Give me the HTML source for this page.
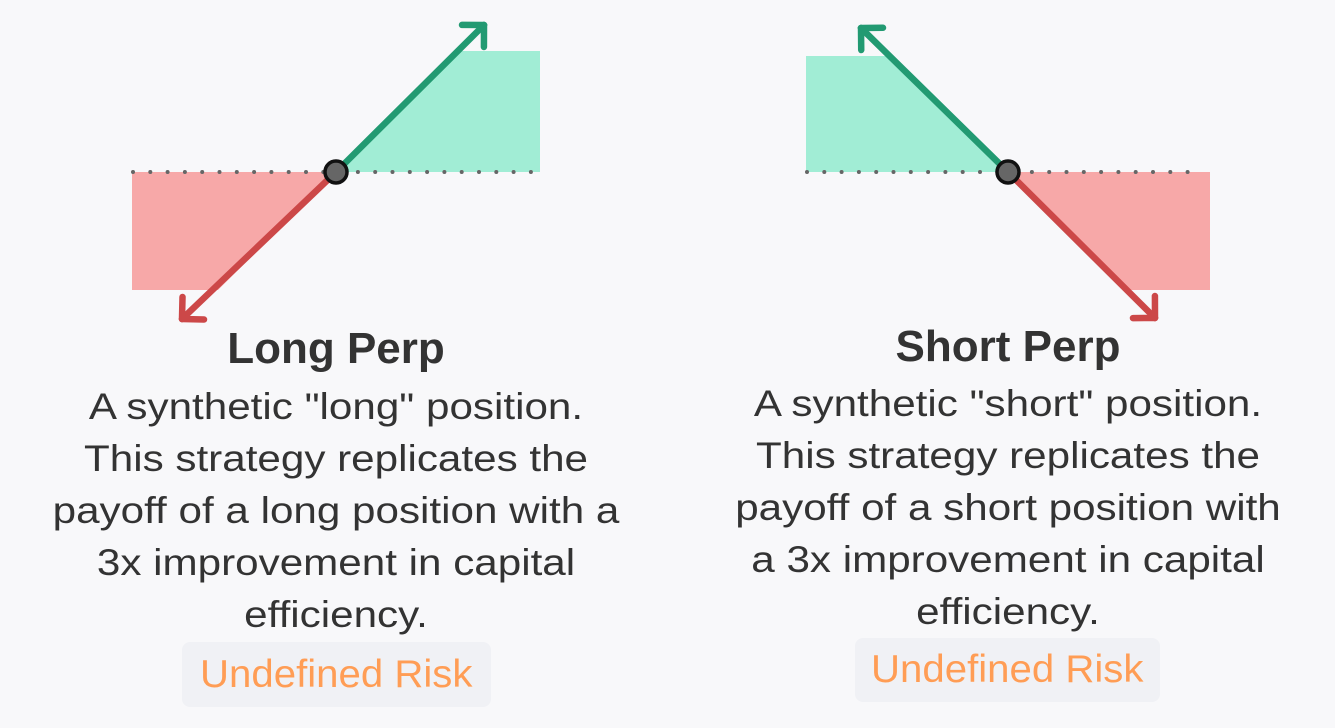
<!DOCTYPE html>
<html><head><meta charset="utf-8"><style>
body{margin:0;width:1335px;height:728px;background:#f8f8fa;font-family:"Liberation Sans",sans-serif;overflow:hidden;position:relative}
.card{position:absolute;top:0;width:640px;text-align:center;color:#333}
.title{position:absolute;left:0;width:100%;font-size:44px;font-weight:bold;line-height:52px;color:#333}
.body{position:absolute;left:0;width:100%;font-size:37px;line-height:52px;white-space:nowrap;color:#333;transform:scaleX(1.14);transform-origin:50% 0}
.badge{position:absolute;background:#f0f1f5;border-radius:8px;color:#ff9d55;font-size:39px;display:flex;align-items:center;justify-content:center}
.badge span{display:inline-block;transform:scaleX(1.03)}
svg{position:absolute;left:0;top:0}
</style></head><body>
<svg width="1335" height="340" id="chart"></svg>

<div class="card" style="left:16px">
  <div class="title" style="top:323px">Long Perp</div>
  <div class="body" style="top:381px">A synthetic "long" position.<br>This strategy replicates the<br>payoff of a long position with a<br>3x improvement in capital<br>efficiency.</div>
</div>
<div class="badge" style="left:182px;top:642px;width:309px;height:65px"><span>Undefined Risk</span></div>

<div class="card" style="left:688px">
  <div class="title" style="top:321px">Short Perp</div>
  <div class="body" style="top:378px">A synthetic "short" position.<br>This strategy replicates the<br>payoff of a short position with<br>a 3x improvement in capital<br>efficiency.</div>
</div>
<div class="badge" style="left:855px;top:638px;width:305px;height:64px"><span>Undefined Risk</span></div>

<script>
// each diagram: center x, profit direction (+1 long, -1 short), fill extents
const centers = [336, 1008];
const directions = [1, -1];
const profitHeights = [121, 116];
const lossHeights = [118, 118];
const halfWidths = [204, 202];
const arrowUp = [[148,147],[147,144]];
const arrowDown = [[154,147],[147,146]];

const NS = "http://www.w3.org/2000/svg";
const svg = document.getElementById('chart');
const baseY = 172;
function mk(tag, attrs){const e=document.createElementNS(NS,tag);for(const k in attrs)e.setAttribute(k,attrs[k]);svg.appendChild(e);return e;}
function arrow(x1,y1,x2,y2,color){
  const l=mk('line',{x1,y1,x2,y2,stroke:color,'stroke-width':6.5,'stroke-linecap':'round'});
  
  
  const a=Math.atan2(y2-y1,x2-x1),s=22;
  [a+Math.PI*0.75,a-Math.PI*0.75].forEach(b=>{
    const h=mk('line',{x1:x2,y1:y2,x2:x2+s*Math.cos(b),y2:y2+s*Math.sin(b),stroke:color,'stroke-width':6.5,'stroke-linecap':'round'});
    
    
  });
}
centers.forEach((cx,i)=>{
  const d=directions[i], w=halfWidths[i];
  const ph=profitHeights[i], lh=lossHeights[i];
  const pEdge = cx + d*w, pLine = cx + d*ph;
  const g=mk('polygon',{points:`${cx},${baseY} ${pLine},${baseY-ph} ${pEdge},${baseY-ph} ${pEdge},${baseY}`,fill:'#a1edd5'});
  
  
  const lEdge = cx - d*w, lLine = cx - d*lh;
  const r=mk('polygon',{points:`${cx},${baseY} ${lLine},${baseY+lh} ${lEdge},${baseY+lh} ${lEdge},${baseY}`,fill:'#f7a8a8'});
  
  
  const z=mk('line',{x1:cx-w+1,y1:baseY,x2:cx+w-6,y2:baseY,stroke:'#666','stroke-width':4,'stroke-dasharray':'0 17.3','stroke-linecap':'round'});
  
  
  arrow(cx,baseY,cx+d*arrowUp[i][0],baseY-arrowUp[i][1],'#229a72');
  arrow(cx,baseY,cx-d*arrowDown[i][0],baseY+arrowDown[i][1],'#cc4848');
  const c=mk('circle',{cx,cy:baseY,r:11,fill:'#666',stroke:'#111','stroke-width':3.5});
  
  
});
</script>
</body></html>
